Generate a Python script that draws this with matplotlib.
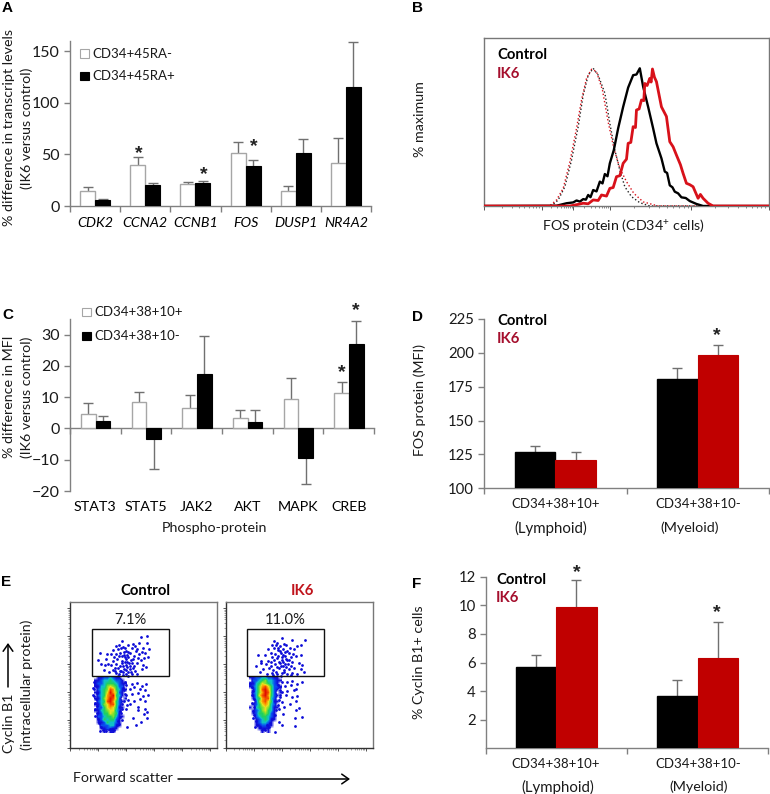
import numpy as np
import matplotlib
matplotlib.use("Agg")
import matplotlib.pyplot as plt
from matplotlib.colors import LinearSegmentedColormap
from matplotlib.patches import Rectangle, FancyArrowPatch

plt.rcParams['font.family'] = ['Lato', 'DejaVu Sans']
plt.rcParams['mathtext.default'] = 'regular'

W, H = 770, 794
TXT = '#1a1a1a'
AXC = '#808080'
ERRC = '#707070'
RED = '#c00000'
IK6C = '#a50f2d'
FS = 10.3
FS_CD = 9.5

# ---------- Panel A
genes = ['CDK2', 'CCNA2', 'CCNB1', 'FOS', 'DUSP1', 'NR4A2']
a_neg = [15, 40, 21, 51, 15, 42]
a_neg_err = [3, 8, 2, 11, 4, 24]
a_pos = [6, 20, 22, 39, 51, 115]
a_pos_err = [0.5, 2, 2, 6, 14, 44]
a_ticks = [0, 50, 100, 150]

# ---------- Panel B (channel, % of maximum)
iso_ctrl_x = [223, 425, 445, 465, 485, 505, 520, 535, 550, 565, 585, 600, 615, 630, 645, 665, 690, 720, 1078]
iso_ctrl_y = [0, 0.2, 4.4, 14, 33.4, 57.6, 80.6, 95, 100, 95, 82, 60, 40.7, 26, 14, 6.8, 2.4, 0, 0]
iso_ik6_x = [223, 420, 440, 460, 480, 500, 515, 530, 545, 560, 578, 595, 612, 630, 650, 672, 700, 745, 1078]
iso_ik6_y = [0, 0.2, 4.4, 12.8, 32, 56.4, 77, 92.7, 99.3, 97.6, 84, 61, 42, 27.4, 17.7, 9.2, 3, 0, 0]
fos_ctrl_x = [223, 440, 470, 490, 500, 510, 520, 528, 535, 542, 550, 560, 570, 578, 585, 593, 600, 612, 625, 640, 655, 670, 680, 690, 700, 715, 730, 740, 755, 765, 772, 780, 788, 795, 805, 815, 828, 840, 860, 880, 1078]
fos_ctrl_y = [0, 0.2, 2, 2.6, 4, 3.2, 5, 4.6, 8, 6.4, 11.6, 10.6, 17.7, 16.4, 23.2, 21.6, 31, 40.7, 56.4, 72, 86, 95, 95.5, 100, 86.7, 72, 56.4, 45.5, 34.6, 25, 24, 15, 13.6, 10.4, 9.2, 6.3, 5.8, 3.6, 1.5, 0, 0]
fos_ik6_x = [223, 480, 505, 520, 535, 550, 565, 575, 590, 600, 610, 620, 630, 640, 650, 655, 663, 670, 677, 680, 688, 695, 702, 705, 712, 720, 724, 728, 734, 740, 755, 770, 780, 790, 800, 812, 820, 830, 840, 850, 865, 872, 880, 895, 910, 1078]
fos_ik6_y = [0, 0, 1.2, 2, 1.6, 4.4, 4, 8, 7.2, 12.8, 13.4, 21.3, 22, 31, 34, 45.5, 46.2, 57.6, 57, 69.7, 70.5, 77, 76.5, 89, 87.5, 92.7, 90, 99.5, 93.5, 90.3, 72, 65, 46.7, 43, 37, 30, 23.7, 16.5, 15.5, 14, 5.6, 8.4, 5.6, 2, 0, 0]
b_major = [223, 395, 490, 600, 845, 1078]

# ---------- Panel C
phospho = ['STAT3', 'STAT5', 'JAK2', 'AKT', 'MAPK', 'CREB']
c_pos = [4.6, 8.3, 6.5, 3.2, 9.3, 11.4]
c_pos_err = [3.6, 3.2, 4.3, 2.6, 6.7, 3.3]
c_neg = [2.5, -3.3, 17.5, 2.2, -9.5, 27]
c_neg_err = [1.6, 9.7, 12.2, 3.8, 8.2, 7.5]
c_ticks = [-20, -10, 0, 10, 20, 30]

# ---------- Panel D
d_groups = ['CD34+38+10+', 'CD34+38+10-']
d_ctrl = [127, 181]
d_ctrl_err = [4, 8]
d_ik6 = [121, 198.5]
d_ik6_err = [6, 7.5]
d_ticks = [100, 125, 150, 175, 200, 225]

# ---------- Panel F
f_ctrl = [5.7, 3.65]
f_ctrl_err = [0.8, 1.1]
f_ik6 = [9.85, 6.3]
f_ik6_err = [1.9, 2.55]
f_ticks = [2, 4, 6, 8, 10, 12]

# ---------- Panel E (density class per 3-channel cell, top row first)
e_ctrl_density = [
    [0,1,1,2,2,3,2,1,1,0,0],[1,1,2,3,3,4,3,2,2,1,0],[1,2,2,3,4,4,4,3,2,1,1],[1,1,3,3,5,6,5,4,2,2,0],
    [0,2,3,4,5,8,7,4,3,1,1],[1,1,3,4,6,9,7,5,2,1,0],[0,2,3,4,7,8,9,4,3,1,0],[1,1,3,5,7,9,8,5,2,0,1],
    [0,2,3,4,8,9,7,4,2,1,0],[1,1,3,5,6,8,8,4,2,0,0],[0,2,2,4,6,7,6,4,1,1,0],[1,1,3,4,5,6,6,3,2,0,0],
    [0,1,2,4,4,6,5,4,1,0,0],[0,2,2,3,4,4,5,3,1,1,0],[0,1,2,4,3,4,4,2,1,0,0],[0,1,1,2,4,3,3,2,1,0,0],
    [0,0,2,2,2,3,3,1,1,0,0],[0,0,1,1,2,2,1,1,0,0,0],[0,0,0,1,0,1,1,0,0,0,0]]
e_ik6_density = [
    [1,1,2,2,3,3,2,2,1,1,0],[0,2,2,3,4,5,3,3,2,1,1],[1,1,3,4,6,5,4,3,2,1,0],[1,2,3,5,7,8,6,4,2,2,1],
    [0,1,3,5,8,9,7,4,2,1,0],[0,2,3,5,7,9,8,4,2,0,1],[0,1,3,6,8,9,7,4,2,1,0],[0,1,3,4,7,8,8,3,2,0,0],
    [0,0,2,5,7,8,6,4,1,1,0],[0,1,2,4,6,7,6,3,2,0,0],[1,0,3,4,5,6,5,3,1,1,0],[0,1,2,3,5,6,4,3,1,0,0],
    [0,1,2,4,4,5,4,2,1,0,0],[0,0,2,3,4,4,3,2,1,0,0],[0,0,1,2,3,4,3,1,1,0,0],[0,0,1,2,3,3,2,1,0,0,0],
    [0,0,1,1,2,2,1,1,0,0,0],[0,0,0,1,1,1,1,0,0,0,0],[0,0,0,0,1,0,1,0,0,0,0]]
# sparse events, digitised at triple scale: (fsc, cyclin)
e_ctrl_upper = [(170,35),(186,34),(112,48),(146,56),(163,54),(187,53),(94,63),(103,60),(116,66),(131,60),(150,62),(158,71),(176,68),(192,72),(84,76),(99,73),(110,70),(123,77),(129,82),(143,70),(154,79),(171,82),(80,86),(93,87),(107,83),(119,90),(136,85),(149,92),(164,88),(181,84),(45,84),(66,87),(89,97),(104,93),(121,97),(131,96),(146,103),(159,98),(178,100),(191,96),(41,104),(64,102),(86,108),(98,103),(113,107),(127,110),(139,106),(156,114),(169,106),(79,120),(94,116),(111,113),(124,120),(141,115),(49,117),(61,120),(71,117),(101,130),(116,124),(128,127),(147,122),(176,120),(184,127),(84,134),(106,137),(118,133),(136,131),(151,137),(171,133),(58,136),(74,142),(93,145),(109,139),(124,147),(138,140),(156,146),(99,152),(114,149),(129,153),(143,148),(122,70),(117,80),(112,92),(125,102),(133,114),(120,112),(106,122),(92,128),(123,134),(131,140),(116,142),(103,146),(90,138),(135,122),(144,130),(128,90)]
e_ctrl_lower = [(125,15),(141,11),(156,9),(171,17),(185,11),(119,30),(136,26),(149,21),(165,27),(180,31),(124,46),(141,43),(161,40),(175,49),(190,44),(131,61),(149,63),(166,56),(182,63),(126,74),(136,71),(160,81),(180,86),(161,91),(186,96),(177,101),(124,88),(145,115),(170,125),(186,113),(128,142),(155,135),(111,121),(104,131),
                (28,6),(33,17),(29,27),(37,38),(27,48),(34,58),(30,68),(38,79),(31,88),(36,98),(30,108),(39,118),(43,129),(48,141),(56,149),(65,153),(76,148),(88,151),(96,136),(101,124),(107,112),(109,99),(113,88),(117,62),(121,41),(116,25),(122,7),(111,71),(24,23),(24,44),(47,152),(82,146),(105,92)]
e_ik6_upper = [(125,38),(100,47),(111,53),(130,56),(155,44),(193,46),(181,59),(170,63),(94,61),(106,60),(119,64),(136,61),(149,69),(84,73),(101,70),(114,76),(127,71),(141,77),(161,73),(91,83),(103,86),(121,84),(129,90),(146,83),(159,88),(74,91),(54,89),(96,96),(109,99),(126,96),(137,102),(151,97),(166,93),(181,91),(84,107),(101,106),(116,110),(127,112),(141,106),(154,110),(61,107),(46,122),(76,116),(91,122),(104,118),(121,124),(134,118),(151,122),(176,113),(186,119),(69,132),(86,130),(99,135),(116,130),(131,134),(146,133),(161,128),(181,132),(191,141),(59,141),(81,147),(94,143),(111,148),(126,143),(141,147),(156,143),(171,147),(99,151),(121,152),(151,150),(62,113),(131,141),(112,70),(120,78),(134,80),(113,92),(124,104),(135,92),(142,116),(110,125),(93,112),(106,140),(136,127),(118,115),(128,122),(147,104)]
e_ik6_lower = [(125,5),(141,7),(156,4),(171,11),(185,7),(120,21),(134,17),(151,14),(166,26),(126,36),(141,33),(161,30),(119,51),(136,44),(156,51),(171,49),(126,66),(150,73),(131,81),(166,64),(116,86),(128,101),(166,91),(176,84),(186,111),(165,113),(115,126),(126,136),(165,139),(105,156),(75,149),(85,141),
               (30,8),(34,20),(38,32),(34,44),(40,56),(36,68),(42,80),(37,92),(42,104),(38,114),(46,124),(50,134),(58,142),(70,146),(80,134),(90,128),(96,116),(104,104),(108,90),(112,74),(116,60),(120,44),(118,30),(114,14),(44,142),(64,150)]

fig = plt.figure(figsize=(W / 100, H / 100), dpi=100, facecolor='white')


def fx(x):
    return x / W


def fy(y):
    return 1 - y / H


def box(l, t, r, b):
    return fig.add_axes([fx(l), fy(b), (r - l) / W, (b - t) / H])


def txt(x, y, s, **k):
    k.setdefault('fontsize', FS)
    k.setdefault('color', TXT)
    k.setdefault('ha', 'center')
    k.setdefault('va', 'center')
    return fig.text(fx(x), fy(y), s, **k)


def star(x, y):
    txt(x, y + 4, '*', fontsize=14, fontweight='bold', color='#222222', family='Liberation Sans')


def letter(x, y, s):
    txt(x, y, s, fontsize=11, fontweight='bold', ha='left', color='black', family='Liberation Sans')


def errs(ax, xs, vals, es, cap=6.5):
    for x, v, e in zip(xs, vals, es):
        end = v + e if v >= 0 else v - e
        ax.plot([x, x], [v, end], color=ERRC, lw=1, zorder=2, solid_capstyle='butt')
        ax.plot([x], [end], marker='_', ms=cap, mew=1, color=ERRC, zorder=2)


def style(ax):
    for s in ('top', 'right'):
        ax.spines[s].set_visible(False)
    for s in ('left', 'bottom'):
        ax.spines[s].set_color(AXC)
        ax.spines[s].set_linewidth(1)
    ax.tick_params(axis='both', which='major', color=AXC, length=4, width=1, labelsize=FS + 1.2, labelcolor=TXT)
    ax.patch.set_alpha(0)


def grouped(ax, a, ae, b, be, ca, cb, ea, eb, start, width):
    n = len(a)
    xa = np.arange(n) + start + width / 2
    xb = np.arange(n) + start + 1.5 * width
    ax.bar(xa, a, width, color=ca, edgecolor=ea, lw=1, zorder=3)
    ax.bar(xb, b, width, color=cb, edgecolor=eb, lw=0.8, zorder=3)
    errs(ax, xa, a, ae)
    errs(ax, xb, b, be)
    ax.set_xlim(0, n)
    ax.set_xticks(np.arange(n + 1))
    ax.set_xticklabels([])


def swatch(x0, y0, x1, y1, fc, ec):
    fig.add_artist(Rectangle((fx(x0), fy(y1)), (x1 - x0) / W, (y1 - y0) / H, transform=fig.transFigure,
                             facecolor=fc, edgecolor=ec, lw=0.8))


# A
axA = box(70, 41, 371, 206)
style(axA)
grouped(axA, a_neg, a_neg_err, a_pos, a_pos_err, 'white', 'black', '#a6a6a6', 'black', 0.2, 0.3)
axA.set_ylim(0, 160)
axA.set_yticks(a_ticks)
axA.set_xticks(np.arange(6) + 0.5, minor=True)
axA.set_xticklabels(genes, minor=True, fontstyle='italic', fontsize=FS)
axA.tick_params(axis='x', which='minor', length=0, pad=8)
txt(9, 128, '% difference in transcript levels', rotation=90)
txt(27, 128, '(IK6 versus control)', rotation=90)
swatch(80, 49, 89, 58, 'white', '#a6a6a6')
swatch(80, 72, 89, 80, 'black', 'black')
txt(92, 54, 'CD34+45RA-', ha='left', fontsize=FS_CD)
txt(92, 76, 'CD34+45RA+', ha='left', fontsize=FS_CD)
star(139, 150)
star(204, 171)
star(254, 143)
letter(2, 8, 'A')

# B
axB = box(484.3, 38, 769, 206)
axB.plot(iso_ctrl_x, iso_ctrl_y, color='#222222', lw=1, ls=':', zorder=3)
axB.plot(iso_ik6_x, iso_ik6_y, color='#d8111a', lw=1, ls=':', zorder=3)
axB.plot(fos_ctrl_x, fos_ctrl_y, color='black', lw=1.7, zorder=4)
axB.plot(fos_ik6_x, fos_ik6_y, color='#d8111a', lw=2, zorder=5)
axB.set_xlim(223, 1078)
axB.set_ylim(0, 122)
axB.set_yticks([])
axB.set_xticks(b_major)
axB.set_xticklabels([])
minorB = []
for lo, hi in zip(b_major[:-1], b_major[1:]):
    minorB += list(lo + (hi - lo) * np.log10(np.arange(2, 10)))
axB.set_xticks(minorB, minor=True)
axB.tick_params(axis='x', which='major', length=3, width=0.7, color='#555555')
axB.tick_params(axis='x', which='minor', length=1.5, width=0.6, color='#777777')
for s in axB.spines.values():
    s.set_color('#777777')
    s.set_linewidth(1)
txt(497, 55, 'Control', ha='left', fontweight='bold', color='black', fontsize=FS + 0.4)
txt(497, 74, 'IK6', ha='left', fontweight='bold', color=IK6C, fontsize=FS + 0.4)
txt(420, 119, '% maximum', rotation=90)
txt(623, 226, 'FOS protein (CD34$^{+}$ cells)')
letter(412, 8, 'B')

# C
axC = box(70, 319, 374, 491)
style(axC)
grouped(axC, c_pos, c_pos_err, c_neg, c_neg_err, 'white', 'black', '#a6a6a6', 'black', 0.217, 0.29)
axC.set_ylim(-20, 35)
axC.set_yticks(c_ticks)
axC.spines['bottom'].set_position(('data', 0))
axC.set_xticks(np.arange(6) + 0.5, minor=True)
axC.set_xticklabels(phospho, minor=True, fontsize=FS)
axC.tick_params(axis='x', which='minor', length=0, pad=52)
txt(9, 397, '% difference in MFI', rotation=90)
txt(27, 397, '(IK6 versus control)', rotation=90)
swatch(82, 308, 91, 316, 'white', '#a6a6a6')
swatch(82, 332, 91, 340, 'black', 'black')
txt(94, 312, 'CD34+38+10+', ha='left', fontsize=FS_CD)
txt(94, 336, 'CD34+38+10-', ha='left', fontsize=FS_CD)
txt(214, 528, 'Phospho-protein')
star(342, 369)
star(356, 307)
letter(2, 315, 'C')


def ctrl_ik6(ax, a, ae, b, be):
    grouped(ax, a, ae, b, be, 'black', RED, 'black', RED, 0.2135, 0.285)


# D
axD = box(484.3, 319, 769, 488.3)
style(axD)
ctrl_ik6(axD, d_ctrl, d_ctrl_err, d_ik6, d_ik6_err)
axD.set_ylim(100, 225)
axD.set_yticks(d_ticks)
axD.tick_params(axis='both', which='major', labelsize=FS + 0.4)
txt(497, 321, 'Control', ha='left', fontweight='bold', color='black', fontsize=FS + 0.4)
txt(497, 339, 'IK6', ha='left', fontweight='bold', color=IK6C, fontsize=FS + 0.4)
txt(556, 504, d_groups[0], fontsize=FS_CD)
txt(551, 528, '(Lymphoid)', fontsize=FS + 0.5)
txt(698, 504, d_groups[1], fontsize=FS_CD)
txt(690, 528, '(Myeloid)')
txt(420, 400, 'FOS protein (MFI)', rotation=90)
star(717, 332)
letter(412, 317, 'D')

# F
axF = box(486, 576.7, 768.3, 748.3)
style(axF)
ctrl_ik6(axF, f_ctrl, f_ctrl_err, f_ik6, f_ik6_err)
axF.set_ylim(0, 12)
axF.set_yticks(f_ticks)
axF.tick_params(axis='both', which='major', labelsize=FS + 0.4)
txt(496, 580, 'Control', ha='left', fontweight='bold', color='black', fontsize=FS + 0.4)
txt(496, 598, 'IK6', ha='left', fontweight='bold', color=IK6C, fontsize=FS + 0.4)
txt(556, 764, d_groups[0], fontsize=FS_CD)
txt(558, 787, '(Lymphoid)', fontsize=FS + 0.5)
txt(698, 764, d_groups[1], fontsize=FS_CD)
txt(699, 787, '(Myeloid)')
txt(419, 662, '% Cyclin B1+ cells', rotation=90)
star(577, 569)
star(717, 609)
letter(412, 584, 'F')

# E
flow = LinearSegmentedColormap.from_list('flow', [
    (0, 'white'), (1 / 9, '#1010d8'), (2 / 9, '#0a50f0'), (3 / 9, '#10c0c8'), (4 / 9, '#20d060'),
    (5 / 9, '#80e030'), (6 / 9, '#e8e020'), (7 / 9, '#ff9a00'), (8 / 9, '#f05000'), (1, '#e01000')])


def flow_panel(left, density, upper, lower, x0, gate_x0, label, value, col):
    ax = box(left, 601.7, left + 147, 748.3)
    ax.imshow(np.array(density, dtype=float), cmap=flow, vmin=0, vmax=9, origin='upper',
              extent=(x0, x0 + 33, 15.3, 72.3), aspect='auto', interpolation='bilinear', zorder=1)
    ox = 14.5
    ux = [ox + p[0] / 3 for p in upper] + [ox + p[0] / 3 for p in lower]
    uy = [123.3 - p[1] / 3 for p in upper] + [68.3 - p[1] / 3 for p in lower]
    ax.scatter(ux, uy, s=4, marker='o', color='#0c0cd8', lw=0, zorder=2)
    ax.add_patch(Rectangle((gate_x0, 72), 77.6, 47.3, fill=False, edgecolor='#111111', lw=1, zorder=4))
    ax.set_xlim(0, 147)
    ax.set_ylim(0, 146.6)
    dec = np.arange(0, 147, 28)
    ax.set_xticks(dec)
    ax.set_yticks(dec)
    ax.set_xticklabels([])
    ax.set_yticklabels([])
    mins = [d + 28 * np.log10(m) for d in dec[:-1] for m in range(2, 10)]
    ax.set_xticks(mins, minor=True)
    ax.set_yticks(mins, minor=True)
    ax.tick_params(which='major', length=2.5, width=0.7, color='#555555')
    ax.tick_params(which='minor', length=1.3, width=0.5, color='#777777')
    ax.spines['top'].set_color('#777777')
    ax.spines['right'].set_color('#777777')
    for s in ('left', 'bottom'):
        ax.spines[s].set_color('#333333')
    for s in ax.spines.values():
        s.set_linewidth(1)
    ax.text(0.5 * (2 * gate_x0 + 77.6), 128.5, value, ha='center', va='center', fontsize=FS + 0.3, color=TXT)
    txt(left + (75 if col == 'black' else 77), 590.7, label, fontweight='bold', color=col, fontsize=FS + 0.4)


flow_panel(70.3, e_ctrl_density, e_ctrl_upper, e_ctrl_lower, 23.7, 21.4, 'Control', '7.1%', 'black')
flow_panel(225.7, e_ik6_density, e_ik6_upper, e_ik6_lower, 23.3, 21.0, 'IK6', '11.0%', '#c0141c')

fig.add_artist(FancyArrowPatch((8 / W, fy(687)), (8 / W, fy(643)), transform=fig.transFigure,
                               arrowstyle='->,head_length=5,head_width=3.5', lw=1.1, color='black',
                               shrinkA=0, shrinkB=0, mutation_scale=1))
fig.add_artist(FancyArrowPatch((178 / W, fy(779)), (350 / W, fy(779)), transform=fig.transFigure,
                               arrowstyle='->,head_length=5,head_width=3.5', lw=1.1, color='black',
                               shrinkA=0, shrinkB=0, mutation_scale=1))
txt(9, 723, 'Cyclin B1', rotation=90)
txt(27, 685, '(intracellular protein)', rotation=90)
txt(73, 778, 'Forward scatter', ha='left')
letter(1, 582, 'E')

fig.savefig('out.png', dpi=100)
